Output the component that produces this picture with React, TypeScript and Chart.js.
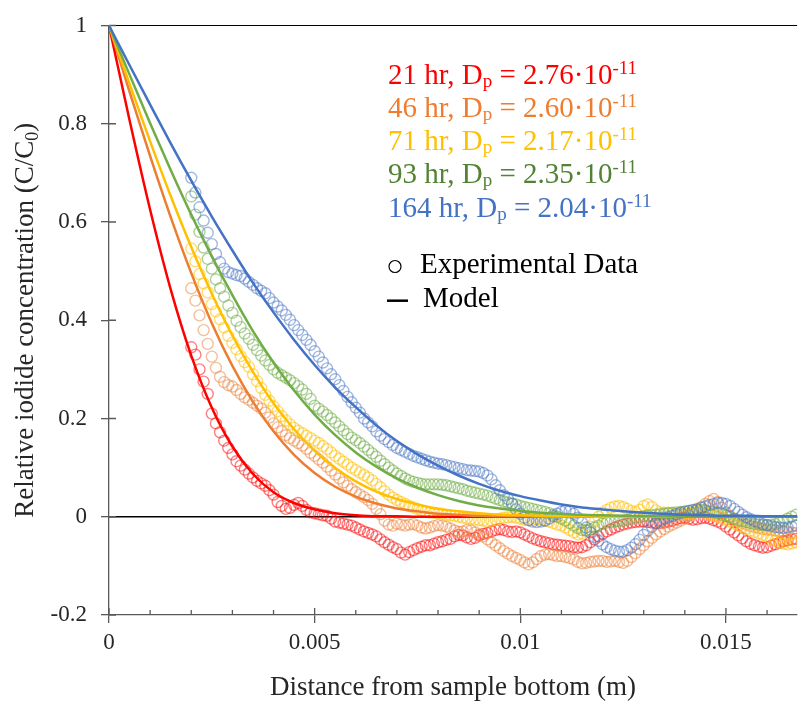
import React, { useEffect, useRef } from 'react';
import { Chart, registerables } from 'chart.js';

Chart.register(...registerables);

const FONT = '"Liberation Serif", "Times New Roman", serif';
const AXIS_COLOR = '#595959';
const TEXT_COLOR = '#262626';

// ---------- data ----------
const distance = [
  0.0020, 0.0021, 0.0022, 0.0023, 0.0024, 0.0025, 0.0026, 0.0027, 0.0028, 0.0029,
  0.0030, 0.0031, 0.0032, 0.0033, 0.0034, 0.0035, 0.0036, 0.0037, 0.0038, 0.0039,
  0.0040, 0.0041, 0.0042, 0.0043, 0.0044, 0.0045, 0.0046, 0.0047, 0.0048, 0.0049,
  0.0050, 0.0051, 0.0052, 0.0053, 0.0054, 0.0055, 0.0056, 0.0057, 0.0058, 0.0059,
  0.0060, 0.0061, 0.0062, 0.0063, 0.0064, 0.0065, 0.0066, 0.0067, 0.0068, 0.0069,
  0.0070, 0.0071, 0.0072, 0.0073, 0.0074, 0.0075, 0.0076, 0.0077, 0.0078, 0.0079,
  0.0080, 0.0081, 0.0082, 0.0083, 0.0084, 0.0085, 0.0086, 0.0087, 0.0088, 0.0089,
  0.0090, 0.0091, 0.0092, 0.0093, 0.0094, 0.0095, 0.0096, 0.0097, 0.0098, 0.0099,
  0.0100, 0.0101, 0.0102, 0.0103, 0.0104, 0.0105, 0.0106, 0.0107, 0.0108, 0.0109,
  0.0110, 0.0111, 0.0112, 0.0113, 0.0114, 0.0115, 0.0116, 0.0117, 0.0118, 0.0119,
  0.0120, 0.0121, 0.0122, 0.0123, 0.0124, 0.0125, 0.0126, 0.0127, 0.0128, 0.0129,
  0.0130, 0.0131, 0.0132, 0.0133, 0.0134, 0.0135, 0.0136, 0.0137, 0.0138, 0.0139,
  0.0140, 0.0141, 0.0142, 0.0143, 0.0144, 0.0145, 0.0146, 0.0147, 0.0148, 0.0149,
  0.0150, 0.0151, 0.0152, 0.0153, 0.0154, 0.0155, 0.0156, 0.0157, 0.0158, 0.0159,
  0.0160, 0.0161, 0.0162, 0.0163, 0.0164, 0.0165, 0.0166, 0.0167,
];

const conc21 = [
  0.345, 0.330, 0.300, 0.275, 0.250, 0.210, 0.190, 0.172, 0.155, 0.140,
  0.127, 0.113, 0.104, 0.096, 0.088, 0.080, 0.073, 0.068, 0.063, 0.054,
  0.045, 0.030, 0.022, 0.016, 0.018, 0.024, 0.028, 0.022, 0.014, 0.009,
  0.007, 0.005, 0.003, 0.002, -0.004, -0.010, -0.012, -0.014, -0.016, -0.018,
  -0.022, -0.026, -0.030, -0.033, -0.036, -0.040, -0.046, -0.052, -0.057, -0.062,
  -0.066, -0.073, -0.077, -0.072, -0.068, -0.064, -0.061, -0.058, -0.058, -0.055,
  -0.052, -0.050, -0.047, -0.045, -0.040, -0.037, -0.038, -0.042, -0.045, -0.043,
  -0.038, -0.035, -0.033, -0.030, -0.027, -0.025, -0.027, -0.030, -0.031, -0.030,
  -0.032, -0.036, -0.040, -0.044, -0.047, -0.050, -0.052, -0.054, -0.056, -0.057,
  -0.058, -0.059, -0.060, -0.062, -0.063, -0.062, -0.058, -0.052, -0.046, -0.040,
  -0.035, -0.030, -0.026, -0.022, -0.019, -0.016, -0.014, -0.012, -0.011, -0.010,
  -0.010, -0.011, -0.012, -0.013, -0.013, -0.012, -0.010, -0.008, -0.005, -0.003,
  -0.002, -0.004, -0.006, -0.005, -0.003, -0.002, -0.004, -0.007, -0.010, -0.014,
  -0.020, -0.026, -0.032, -0.038, -0.044, -0.050, -0.055, -0.058, -0.061, -0.063,
  -0.062, -0.059, -0.056, -0.053, -0.050, -0.048, -0.046, -0.045,
];

const conc46 = [
  0.465, 0.440, 0.410, 0.380, 0.352, 0.326, 0.303, 0.285, 0.274, 0.268,
  0.265, 0.258, 0.250, 0.243, 0.238, 0.232, 0.226, 0.220, 0.212, 0.202,
  0.190, 0.182, 0.174, 0.166, 0.160, 0.155, 0.150, 0.145, 0.138, 0.130,
  0.124, 0.117, 0.110, 0.102, 0.094, 0.086, 0.078, 0.070, 0.063, 0.056,
  0.050, 0.045, 0.040, 0.034, 0.026, 0.016, 0.005, -0.008, -0.016, -0.018,
  -0.014, -0.016, -0.018, -0.016, -0.015, -0.018, -0.022, -0.024, -0.022, -0.019,
  -0.017, -0.018, -0.020, -0.024, -0.028, -0.031, -0.030, -0.027, -0.028, -0.032,
  -0.036, -0.040, -0.046, -0.052, -0.058, -0.064, -0.070, -0.075, -0.080, -0.084,
  -0.088, -0.093, -0.097, -0.093, -0.086, -0.080, -0.077, -0.076, -0.078, -0.080,
  -0.080, -0.082, -0.084, -0.087, -0.092, -0.095, -0.094, -0.092, -0.091, -0.090,
  -0.090, -0.092, -0.091, -0.090, -0.092, -0.094, -0.090, -0.082, -0.074, -0.066,
  -0.058, -0.050, -0.043, -0.036, -0.030, -0.025, -0.020, -0.016, -0.012, -0.008,
  -0.004, 0.002, 0.008, 0.014, 0.020, 0.026, 0.032, 0.036, 0.030, 0.018,
  0.008, 0.001, -0.005, -0.010, -0.013, -0.016, -0.019, -0.021, -0.023, -0.025,
  -0.026, -0.027, -0.028, -0.029, -0.030, -0.031, -0.032, -0.033,
];

const conc71 = [
  0.546, 0.520, 0.494, 0.475, 0.457, 0.433, 0.418, 0.402, 0.385, 0.368,
  0.354, 0.341, 0.327, 0.315, 0.305, 0.290, 0.276, 0.262, 0.248, 0.236,
  0.225, 0.215, 0.205, 0.196, 0.188, 0.181, 0.175, 0.170, 0.165, 0.160,
  0.155, 0.150, 0.144, 0.138, 0.131, 0.124, 0.118, 0.112, 0.106, 0.100,
  0.095, 0.090, 0.085, 0.080, 0.074, 0.067, 0.060, 0.052, 0.045, 0.039,
  0.034, 0.030, 0.026, 0.022, 0.019, 0.016, 0.013, 0.011, 0.009, 0.008,
  0.007, 0.006, 0.004, 0.003, 0.002, 0.000, -0.002, -0.003, -0.004, -0.006,
  -0.007, -0.008, -0.010, -0.008, -0.006, -0.004, -0.002, -0.001, 0.000, -0.002,
  -0.004, -0.006, -0.007, -0.006, -0.005, -0.006, -0.008, -0.010, -0.013, -0.016,
  -0.018, -0.022, -0.027, -0.032, -0.036, -0.034, -0.028, -0.020, -0.010, 0.000,
  0.008, 0.014, 0.018, 0.021, 0.022, 0.020, 0.016, 0.012, 0.010, 0.014,
  0.022, 0.025, 0.020, 0.013, 0.009, 0.008, 0.008, 0.007, 0.006, 0.005,
  0.005, 0.006, 0.008, 0.010, 0.010, 0.008, 0.005, 0.002, 0.000, -0.003,
  -0.006, -0.010, -0.014, -0.018, -0.021, -0.024, -0.028, -0.031, -0.034, -0.037,
  -0.041, -0.045, -0.049, -0.053, -0.055, -0.056, -0.054, -0.052,
];

const conc93 = [
  0.652, 0.615, 0.580, 0.548, 0.525, 0.505, 0.483, 0.465, 0.448, 0.430,
  0.415, 0.399, 0.386, 0.373, 0.362, 0.350, 0.339, 0.328, 0.318, 0.309,
  0.300, 0.293, 0.288, 0.283, 0.278, 0.272, 0.266, 0.259, 0.250, 0.240,
  0.226, 0.220, 0.214, 0.207, 0.200, 0.192, 0.184, 0.176, 0.168, 0.161,
  0.156, 0.150, 0.143, 0.136, 0.129, 0.122, 0.114, 0.107, 0.100, 0.094,
  0.088, 0.083, 0.078, 0.074, 0.071, 0.069, 0.067, 0.066, 0.066, 0.066,
  0.066, 0.065, 0.064, 0.062, 0.060, 0.058, 0.056, 0.053, 0.051, 0.049,
  0.047, 0.045, 0.043, 0.040, 0.037, 0.034, 0.031, 0.029, 0.027, 0.025,
  0.022, 0.020, 0.018, 0.016, 0.014, 0.012, 0.010, 0.007, 0.004, 0.000,
  -0.004, -0.008, -0.013, -0.018, -0.023, -0.027, -0.028, -0.026, -0.022, -0.018,
  -0.014, -0.012, -0.011, -0.010, -0.009, -0.008, -0.006, -0.004, -0.002, -0.001,
  0.001, 0.002, 0.003, 0.004, 0.005, 0.006, 0.007, 0.008, 0.009, 0.010,
  0.011, 0.012, 0.013, 0.014, 0.014, 0.013, 0.011, 0.009, 0.007, 0.004,
  0.002, -0.001, -0.004, -0.007, -0.009, -0.011, -0.013, -0.015, -0.016, -0.017,
  -0.017, -0.016, -0.015, -0.012, -0.008, -0.004, 0.000, 0.004,
];

const conc164 = [
  0.690, 0.660, 0.630, 0.603, 0.578, 0.555, 0.535, 0.518, 0.505, 0.498,
  0.495, 0.492, 0.490, 0.485, 0.478, 0.472, 0.465, 0.460, 0.455, 0.445,
  0.436, 0.428, 0.420, 0.411, 0.401, 0.390, 0.380, 0.370, 0.360, 0.350,
  0.337, 0.326, 0.314, 0.302, 0.290, 0.280, 0.268, 0.256, 0.244, 0.233,
  0.222, 0.212, 0.200, 0.192, 0.184, 0.174, 0.165, 0.158, 0.152, 0.146,
  0.140, 0.136, 0.132, 0.128, 0.124, 0.121, 0.118, 0.115, 0.112, 0.110,
  0.108, 0.107, 0.105, 0.103, 0.101, 0.099, 0.097, 0.095, 0.094, 0.093,
  0.092, 0.089, 0.084, 0.076, 0.064, 0.054, 0.044, 0.036, 0.026, 0.015,
  0.006, -0.002, -0.007, -0.010, -0.011, -0.010, -0.008, -0.004, 0.001, 0.006,
  0.010, 0.013, 0.012, 0.006, -0.002, -0.012, -0.022, -0.032, -0.041, -0.049,
  -0.056, -0.062, -0.066, -0.069, -0.071, -0.071, -0.068, -0.063, -0.056, -0.047,
  -0.037, -0.028, -0.020, -0.013, -0.008, -0.004, -0.001, 0.002, 0.005, 0.008,
  0.010, 0.012, 0.014, 0.016, 0.018, 0.021, 0.024, 0.026, 0.028, 0.028,
  0.026, 0.022, 0.016, 0.010, 0.004, -0.001, -0.005, -0.009, -0.012, -0.015,
  -0.017, -0.019, -0.021, -0.022, -0.023, -0.022, -0.020, -0.018,
];

const modelDistance = [
  0, 0.0005, 0.001, 0.0015, 0.002, 0.0025, 0.003, 0.0035, 0.004, 0.0045,
  0.005, 0.0055, 0.006, 0.0065, 0.007, 0.0075, 0.008, 0.0085, 0.009, 0.0095,
  0.01, 0.0105, 0.011, 0.0115, 0.012, 0.0125, 0.013, 0.0135, 0.014, 0.0145,
  0.015, 0.0155, 0.016, 0.0165, 0.017,
];
const model21 = [
  1, 0.807, 0.625, 0.463, 0.328, 0.222, 0.143, 0.087, 0.050, 0.028,
  0.015, 0.007, 0.003, 0.001, 0.001, 0, 0, 0, 0, 0,
  0, 0, 0, 0, 0, 0, 0, 0, 0, 0,
  0, 0, 0, 0, 0,
];
const model46 = [
  1, 0.865, 0.734, 0.610, 0.496, 0.394, 0.307, 0.234, 0.174, 0.126,
  0.089, 0.061, 0.041, 0.027, 0.017, 0.011, 0.006, 0.004, 0.002, 0.001,
  0.001, 0, 0, 0, 0, 0, 0, 0, 0, 0,
  0, 0, 0, 0, 0,
];
const model71 = [
  1, 0.881, 0.764, 0.653, 0.549, 0.454, 0.369, 0.295, 0.231, 0.178,
  0.134, 0.099, 0.072, 0.051, 0.036, 0.025, 0.016, 0.011, 0.007, 0.004,
  0.003, 0.002, 0.001, 0.001, 0, 0, 0, 0, 0, 0,
  0, 0, 0, 0, 0,
];
const model93 = [
  1, 0.900, 0.801, 0.706, 0.615, 0.530, 0.451, 0.378, 0.314, 0.257,
  0.208, 0.166, 0.131, 0.102, 0.078, 0.059, 0.044, 0.032, 0.023, 0.017,
  0.012, 0.008, 0.006, 0.004, 0.003, 0.002, 0.001, 0.001, 0, 0,
  0, 0, 0, 0, 0,
];
const model164 = [
  1, 0.919, 0.839, 0.760, 0.684, 0.611, 0.542, 0.476, 0.416, 0.360,
  0.309, 0.263, 0.223, 0.186, 0.154, 0.127, 0.104, 0.084, 0.067, 0.053,
  0.042, 0.033, 0.025, 0.019, 0.015, 0.011, 0.008, 0.006, 0.004, 0.003,
  0.002, 0.002, 0.001, 0.001, 0.001,
];

const xMajorTicks = [0, 0.005, 0.01, 0.015];
const xTickLabels = ['0', '0.005', '0.01', '0.015'];
const yTickValues = [-0.2, 0, 0.2, 0.4, 0.6, 0.8, 1];
const yTickLabels = ['-0.2', '0', '0.2', '0.4', '0.6', '0.8', '1'];

const hoursLabels = ['21 hr', '46 hr', '71 hr', '93 hr', '164 hr'];
const dpValues = ['2.76', '2.60', '2.17', '2.35', '2.04'];
const dpExponent = '-11';
const xTitle = 'Distance from sample bottom (m)';
const yTitleMain = 'Relative iodide concentration (C/C';
const yTitleSub = '0';
const legendDataLabel = 'Experimental Data';
const legendModelLabel = 'Model';

// ---------- styles ----------
const lineColors = ['rgb(255,0,0)', 'rgb(237,125,49)', 'rgb(255,192,0)', 'rgb(112,173,71)', 'rgb(68,114,196)'];
const markerColors = ['rgba(255,0,0,0.5)', 'rgba(237,125,49,0.5)', 'rgba(255,192,0,0.55)', 'rgba(112,173,71,0.55)', 'rgba(68,114,196,0.5)'];
const legendTextColors = ['#FF0000', '#ED7D31', '#FFC000', '#548235', '#4472C4'];

const seriesValues = [conc21, conc46, conc71, conc93, conc164];
const modelValues = [model21, model46, model71, model93, model164];

function isMajorX(v: number) {
  return xMajorTicks.some((m) => Math.abs(m - v) < 1e-7);
}

type Part = { text: string; kind: 'n' | 'sub' | 'sup' };

function richWidth(ctx: CanvasRenderingContext2D, parts: Part[], size: number, small: number) {
  let w = 0;
  for (const p of parts) {
    ctx.font = `${p.kind === 'n' ? size : small}px ${FONT}`;
    w += ctx.measureText(p.text).width;
  }
  return w;
}

function drawRich(
  ctx: CanvasRenderingContext2D, parts: Part[], x: number, y: number,
  size: number, small: number, subDy: number, supDy: number,
) {
  let cx = x;
  for (const p of parts) {
    ctx.font = `${p.kind === 'n' ? size : small}px ${FONT}`;
    const dy = p.kind === 'sub' ? subDy : p.kind === 'sup' ? supDy : 0;
    ctx.fillText(p.text, cx, y + dy);
    cx += ctx.measureText(p.text).width;
  }
}

const extrasPlugin = {
  id: 'extras',
  beforeDatasetsDraw(chart: any) {
    const { ctx, chartArea: a, scales } = chart;
    const xs = scales.x;
    const ys = scales.y;
    ctx.save();
    // zero line
    const y0 = ys.getPixelForValue(0);
    ctx.strokeStyle = '#000';
    ctx.lineWidth = 1.3;
    ctx.beginPath();
    ctx.moveTo(a.left, y0);
    ctx.lineTo(a.right, y0);
    ctx.stroke();
    // top border
    ctx.lineWidth = 1;
    ctx.beginPath();
    ctx.moveTo(a.left, a.top);
    ctx.lineTo(a.right, a.top);
    ctx.stroke();
    // inner tick marks
    ctx.strokeStyle = AXIS_COLOR;
    ctx.lineWidth = 1.3;
    ctx.beginPath();
    for (const t of ys.ticks) {
      const py = ys.getPixelForValue(t.value);
      ctx.moveTo(a.left, py);
      ctx.lineTo(a.left + 7, py);
    }
    for (const t of xs.ticks) {
      const px = xs.getPixelForValue(t.value);
      const len = isMajorX(t.value) ? 7 : 5;
      ctx.moveTo(px, a.bottom);
      ctx.lineTo(px, a.bottom - len);
    }
    ctx.stroke();
    ctx.restore();
  },
  afterDraw(chart: any) {
    const { ctx, chartArea: a } = chart;
    ctx.save();
    ctx.textBaseline = 'alphabetic';
    ctx.textAlign = 'left';

    // y-axis title (rotated, with subscript)
    const yParts: Part[] = [
      { text: yTitleMain, kind: 'n' },
      { text: yTitleSub, kind: 'sub' },
      { text: ')', kind: 'n' },
    ];
    const tw = richWidth(ctx, yParts, 27, 18);
    ctx.save();
    ctx.translate(33, (a.top + a.bottom) / 2);
    ctx.rotate(-Math.PI / 2);
    ctx.fillStyle = TEXT_COLOR;
    drawRich(ctx, yParts, -tw / 2, 0, 27, 18, 5, -9);
    ctx.restore();

    // series legend
    const baselines = [84, 117, 150, 183, 216.5];
    for (let i = 0; i < hoursLabels.length; i++) {
      const parts: Part[] = [
        { text: `${hoursLabels[i]}, D`, kind: 'n' },
        { text: 'p', kind: 'sub' },
        { text: ` = ${dpValues[i]}\u00B710`, kind: 'n' },
        { text: dpExponent, kind: 'sup' },
      ];
      ctx.fillStyle = legendTextColors[i];
      drawRich(ctx, parts, 388, baselines[i], 29, 19, 3, -10);
    }

    // symbol legend
    ctx.strokeStyle = '#000';
    ctx.lineWidth = 1.2;
    ctx.beginPath();
    ctx.arc(395, 266.5, 6, 0, Math.PI * 2);
    ctx.stroke();
    ctx.lineWidth = 2.5;
    ctx.beginPath();
    ctx.moveTo(387, 300.7);
    ctx.lineTo(408, 300.7);
    ctx.stroke();
    ctx.fillStyle = '#000';
    ctx.font = `29px ${FONT}`;
    ctx.fillText(legendDataLabel, 420, 273);
    ctx.fillText(legendModelLabel, 423, 307);
    ctx.restore();
  },
};

export default function App() {
  const canvasRef = useRef<HTMLCanvasElement | null>(null);

  useEffect(() => {
    document.body.style.margin = '0';
    const canvas = canvasRef.current;
    if (!canvas) return;

    const datasets: any[] = [];
    for (let i = 0; i < seriesValues.length; i++) {
      datasets.push({
        label: `model ${hoursLabels[i]}`,
        data: modelDistance.map((x, j) => ({ x, y: modelValues[i][j] })),
        showLine: true,
        borderColor: lineColors[i],
        borderWidth: 2.5,
        pointRadius: 0,
        cubicInterpolationMode: 'monotone',
        fill: false,
        order: 4 - i,
      });
    }
    for (let i = 0; i < seriesValues.length; i++) {
      datasets.push({
        label: `data ${hoursLabels[i]}`,
        data: distance.map((x, j) => ({ x, y: seriesValues[i][j] })),
        showLine: false,
        pointRadius: 5.5,
        pointBorderWidth: 1.4,
        pointBorderColor: markerColors[i],
        pointBackgroundColor: 'rgba(0,0,0,0)',
        order: 14 - i,
      });
    }

    const chart = new Chart(canvas, {
      type: 'scatter',
      data: { datasets },
      options: {
        animation: false,
        responsive: false,
        devicePixelRatio: 1,
        events: [],
        layout: { padding: { top: 12, left: 0, right: 0, bottom: 0 } },
        plugins: { legend: { display: false }, tooltip: { enabled: false } },
        scales: {
          x: {
            type: 'linear',
            min: 0,
            max: 0.01673,
            afterFit: (s: any) => { s.height = 89; },
            ticks: {
              stepSize: 0.001,
              autoSkip: false,
              includeBounds: false,
              maxRotation: 0,
              minRotation: 0,
              padding: 8,
              color: TEXT_COLOR,
              font: { family: FONT, size: 23, lineHeight: 1 },
              callback: (v: any) => {
                const idx = xMajorTicks.findIndex((m) => Math.abs(m - v) < 1e-7);
                return idx >= 0 ? xTickLabels[idx] : '';
              },
            },
            grid: {
              drawOnChartArea: false,
              drawTicks: true,
              tickLength: 8,
              lineWidth: 1.3,
              color: (c: any) => (c.tick && isMajorX(c.tick.value) ? AXIS_COLOR : 'rgba(0,0,0,0)'),
            },
            border: { display: true, color: AXIS_COLOR, width: 1.3 },
            title: {
              display: true,
              text: xTitle,
              color: TEXT_COLOR,
              font: { family: FONT, size: 27 },
              padding: { top: 0, bottom: 0 },
            },
          },
          y: {
            type: 'linear',
            min: -0.2,
            max: 1,
            afterFit: (s: any) => { s.width = 109; },
            ticks: {
              stepSize: 0.2,
              padding: 14,
              color: TEXT_COLOR,
              font: { family: FONT, size: 23, lineHeight: 1 },
              callback: (v: any) => {
                const idx = yTickValues.findIndex((m) => Math.abs(m - v) < 1e-7);
                return idx >= 0 ? yTickLabels[idx] : '';
              },
            },
            grid: {
              drawOnChartArea: false,
              drawTicks: true,
              tickLength: 8,
              lineWidth: 1.3,
              color: AXIS_COLOR,
            },
            border: { display: true, color: AXIS_COLOR, width: 1.3 },
          },
        },
      },
      plugins: [extrasPlugin],
    } as any);

    return () => chart.destroy();
  }, []);

  return (
    <div style={{ width: 804, height: 704, position: 'relative', background: '#fff' }}>
      <canvas ref={canvasRef} width={804} height={704} style={{ display: 'block' }} />
    </div>
  );
}
